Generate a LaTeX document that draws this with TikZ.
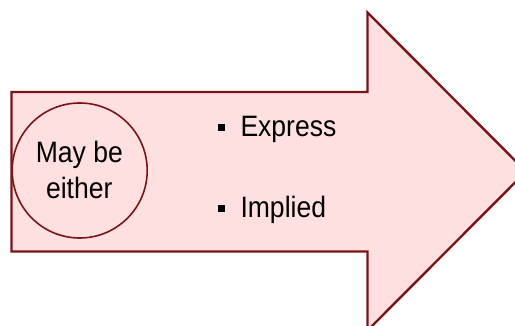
\documentclass[tikz,border=0pt]{standalone}
\usepackage{fontspec}
\setmainfont{Liberation Sans}
\definecolor{edgered}{HTML}{7A1419}
\definecolor{pinkfill}{HTML}{FFE0E1}
\begin{document}
\begin{tikzpicture}[x=1pt,y=-1pt,
  txt/.style={inner sep=0pt, xscale=0.9, font=\fontsize{29.5}{35.6}\selectfont, text=black},
  bul/.style={txt, anchor=base west}]
\useasboundingbox (0,0) rectangle (515,326);
\begin{scope}
\clip (0,0) rectangle (515,326);
\draw[edgered, line width=2.4pt, fill=pinkfill, line join=miter]
  (11.5,92) -- (367.5,92) -- (367.5,12.5) -- (526,171.5) -- (367.5,330.5) -- (367.5,251.5) -- (11.5,251.5) -- cycle;
\end{scope}
\node[circle, draw=edgered, line width=1.6pt, fill=pinkfill, minimum size=135pt, inner sep=0pt] (c) at (79.7,170.5) {};
\node[txt, align=center] (t) at (79.3,170) {May be\\either};
\node[bul] (e) at (218,136.7) {\rule[5.6pt]{7.8pt}{7pt}\hspace{17pt}Express};
\node[bul] (i) at (218,217.3) {\rule[5.6pt]{7.8pt}{7pt}\hspace{17pt}Implied};
\end{tikzpicture}
\end{document}
